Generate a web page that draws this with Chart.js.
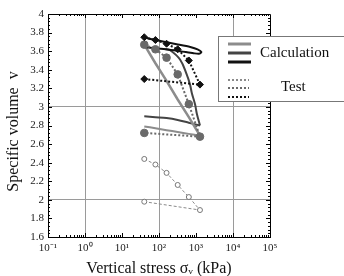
<!DOCTYPE html>
<html>
<head>
<meta charset="utf-8">
<script src="https://cdn.jsdelivr.net/npm/chart.js@4/dist/chart.umd.min.js"></script>
<style>
html,body{margin:0;padding:0;background:#fff;}
canvas{display:block;}
</style>
</head>
<body>
<canvas id="c" width="344" height="276"></canvas>
<script>
// ---- data ----
const testStress = [40, 80, 160, 320, 640, 1280, 40];
const testLight = [2.44, 2.38, 2.29, 2.16, 2.03, 1.89, 1.98];
const testGray  = [3.67, 3.62, 3.53, 3.35, 3.03, 2.68, 2.72];
const testBlack = [3.75, 3.72, 3.68, 3.62, 3.50, 3.24, 3.30];

const calcGrayLoadStress   = [40, 80, 160, 320, 640, 1280];
const calcGrayLoad         = [3.67, 3.47, 3.28, 3.08, 2.89, 2.69];
const calcGrayUnloadStress = [1280, 640, 320, 160, 80, 40];
const calcGrayUnload       = [2.69, 2.71, 2.73, 2.75, 2.77, 2.79];

const calcDarkLoadStress   = [150, 200, 370, 560, 690, 770, 945, 1050, 1280];
const calcDarkLoad         = [3.62, 3.61, 3.51, 3.35, 3.24, 3.15, 3.025, 2.93, 2.80];
const calcDarkUnloadStress = [1280, 640, 320, 160, 80, 40];
const calcDarkUnload       = [2.80, 2.83, 2.86, 2.88, 2.89, 2.90];

const calcBlackStress = [40, 87, 300, 700, 1100, 1400, 1200, 855, 300, 87, 40];
const calcBlack       = [3.746, 3.717, 3.675, 3.645, 3.62, 3.59, 3.572, 3.578, 3.605, 3.63, 3.645];

const xTickValues = [0.1, 1, 10, 100, 1000, 10000, 100000];
const xTickLabels = ['10\u207B\u00B9', '10\u2070', '10\u00B9', '10\u00B2', '10\u00B3', '10\u2074', '10\u2075'];
const xGridValues = [1, 100, 10000];
const yGridValues = [2, 3];

const calcLabel = 'Calculation';
const testLabel = 'Test';

// ---- helpers ----
const pts = (xs, ys) => xs.map((x, i) => ({x: x, y: ys[i]}));
const FONT = "'Liberation Serif', 'Times New Roman', serif";

const datasets = [
  { label: 'Test (black)', data: pts(testStress, testBlack), borderColor: '#111', backgroundColor: '#111',
    borderWidth: 2, borderDash: [2, 2], pointStyle: 'rectRot', pointRadius: 3.5, pointBorderWidth: 1, tension: 0 },
  { label: 'Test (gray)', data: pts(testStress, testGray), borderColor: '#6a6a6a', backgroundColor: '#6a6a6a',
    borderWidth: 2, borderDash: [2, 2], pointStyle: 'circle', pointRadius: 3.8, pointBorderWidth: 1, tension: 0 },
  { label: 'Test (light)', data: pts(testStress, testLight), borderColor: '#8a8a8a', backgroundColor: '#fff',
    borderWidth: 1, borderDash: [3, 2], pointStyle: 'circle', pointRadius: 2.5, pointBorderWidth: 1, tension: 0,
    pointBorderColor: '#777' },
  { label: 'Calc (black)', data: pts(calcBlackStress, calcBlack), borderColor: '#111',
    borderWidth: 2, pointRadius: 0, tension: 0.25 },
  { label: 'Calc (dark)', data: pts(calcDarkLoadStress, calcDarkLoad), borderColor: '#444',
    borderWidth: 2, pointRadius: 0, tension: 0.4 },
  { label: 'Calc (gray)', data: pts(calcGrayLoadStress, calcGrayLoad), borderColor: '#8c8c8c',
    borderWidth: 2.5, pointRadius: 0, tension: 0 },
  { label: 'Calc (dark, unload)', data: pts(calcDarkUnloadStress, calcDarkUnload), borderColor: '#444',
    borderWidth: 2, pointRadius: 0, tension: 0.3 },
  { label: 'Calc (gray, unload)', data: pts(calcGrayUnloadStress, calcGrayUnload), borderColor: '#8c8c8c',
    borderWidth: 2, pointRadius: 0, tension: 0.3 }
];

// ---- frame & minor ticks ----
const framePlugin = {
  id: 'frame',
  afterDatasetsDraw(chart) {
    const {ctx, chartArea: a, scales: {x, y}} = chart;
    ctx.save();
    ctx.strokeStyle = '#000';
    ctx.lineWidth = 1;
    ctx.beginPath();
    ctx.rect(a.left + 0.5, a.top + 0.5, a.right - a.left, a.bottom - a.top);
    ctx.stroke();
    ctx.beginPath();
    for (let k = 0; k <= 60; k++) {
      const v = 1.6 + k * 0.04;
      const py = Math.round(y.getPixelForValue(v)) + 0.5;
      const len = (k % 5 === 0) ? 4 : 2;
      ctx.moveTo(a.left, py); ctx.lineTo(a.left + len, py);
      ctx.moveTo(a.right, py); ctx.lineTo(a.right - len, py);
    }
    for (let e = -1; e <= 4; e++) {
      for (let m = 1; m <= 9; m++) {
        const v = m * Math.pow(10, e);
        const px = Math.round(x.getPixelForValue(v)) + 0.5;
        const len = m === 1 ? 4 : 2;
        ctx.moveTo(px, a.bottom); ctx.lineTo(px, a.bottom - len);
        ctx.moveTo(px, a.top); ctx.lineTo(px, a.top + len);
      }
    }
    ctx.stroke();
    ctx.restore();
  }
};

// ---- custom legend ----
const legendPlugin = {
  id: 'customLegend',
  afterDraw(chart) {
    const ctx = chart.ctx;
    const ds = chart.data.datasets;
    ctx.save();
    ctx.fillStyle = '#fff';
    ctx.fillRect(218, 36, 140, 66);
    ctx.strokeStyle = '#777';
    ctx.lineWidth = 1;
    ctx.strokeRect(218.5, 36.5, 140, 65);
    const calcOrder = [5, 4, 3];
    const calcY = [44, 53, 62];
    calcOrder.forEach((i, k) => {
      ctx.strokeStyle = ds[i].borderColor;
      ctx.lineWidth = 3;
      ctx.setLineDash([]);
      ctx.beginPath(); ctx.moveTo(228, calcY[k]); ctx.lineTo(251, calcY[k]); ctx.stroke();
    });
    const testOrder = [2, 1, 0];
    const testY = [80, 88, 97];
    testOrder.forEach((i, k) => {
      ctx.strokeStyle = ds[i].borderColor;
      ctx.lineWidth = 2;
      ctx.setLineDash([2, 2]);
      ctx.beginPath(); ctx.moveTo(228, testY[k]); ctx.lineTo(249, testY[k]); ctx.stroke();
    });
    ctx.setLineDash([]);
    ctx.fillStyle = '#111';
    ctx.font = '15px ' + FONT;
    ctx.textBaseline = 'middle';
    ctx.textAlign = 'left';
    ctx.fillText(calcLabel, 260, 53);
    ctx.fillText(testLabel, 281, 87);
    ctx.restore();
  }
};

new Chart(document.getElementById('c'), {
  type: 'line',
  data: { datasets: datasets },
  options: {
    responsive: false,
    animation: false,
    layout: { padding: { left: 0, right: 74, top: 14, bottom: 0 } },
    plugins: { legend: { display: false }, tooltip: { enabled: false } },
    scales: {
      x: {
        type: 'logarithmic', min: 0.1, max: 100000,
        afterBuildTicks: s => { s.ticks = xTickValues.map(v => ({value: v})); },
        afterFit: s => { s.height = 39; },
        ticks: {
          autoSkip: false, maxRotation: 0, padding: 5, color: '#222',
          font: { family: FONT, size: 11 },
          callback: (v) => { const i = xTickValues.findIndex(t => Math.abs(Math.log10(t) - Math.log10(v)) < 1e-6); return i >= 0 ? xTickLabels[i] : ''; }
        },
        grid: { drawTicks: false, lineWidth: 1,
          color: c => (c.tick && xGridValues.some(g => Math.abs(Math.log10(g) - Math.log10(c.tick.value)) < 1e-6)) ? '#9a9a9a' : 'rgba(0,0,0,0)' },
        border: { color: '#000', width: 1 },
        title: { display: true, text: 'Vertical stress \u03C3\u1D65 (kPa)', color: '#111',
          font: { family: FONT, size: 16 }, padding: { top: 0, bottom: -2 } }
      },
      y: {
        type: 'linear', min: 1.6, max: 4,
        afterBuildTicks: s => { const t = []; for (let k = 0; k <= 12; k++) t.push({value: +(1.6 + k * 0.2).toFixed(1)}); s.ticks = t; },
        afterFit: s => { s.width = 48; },
        ticks: { padding: 4, color: '#222', font: { family: FONT, size: 11 },
          callback: v => String(+(+v).toFixed(1)) },
        grid: { drawTicks: false, lineWidth: 1,
          color: c => (c.tick && yGridValues.some(g => Math.abs(g - c.tick.value) < 1e-6)) ? '#9a9a9a' : 'rgba(0,0,0,0)' },
        border: { color: '#000', width: 1 },
        title: { display: true, text: 'Specific volume  v   ', color: '#111',
          font: { family: FONT, size: 16 }, padding: { top: 4, bottom: 0 } }
      }
    }
  },
  plugins: [framePlugin, legendPlugin]
});
</script>
</body>
</html>
